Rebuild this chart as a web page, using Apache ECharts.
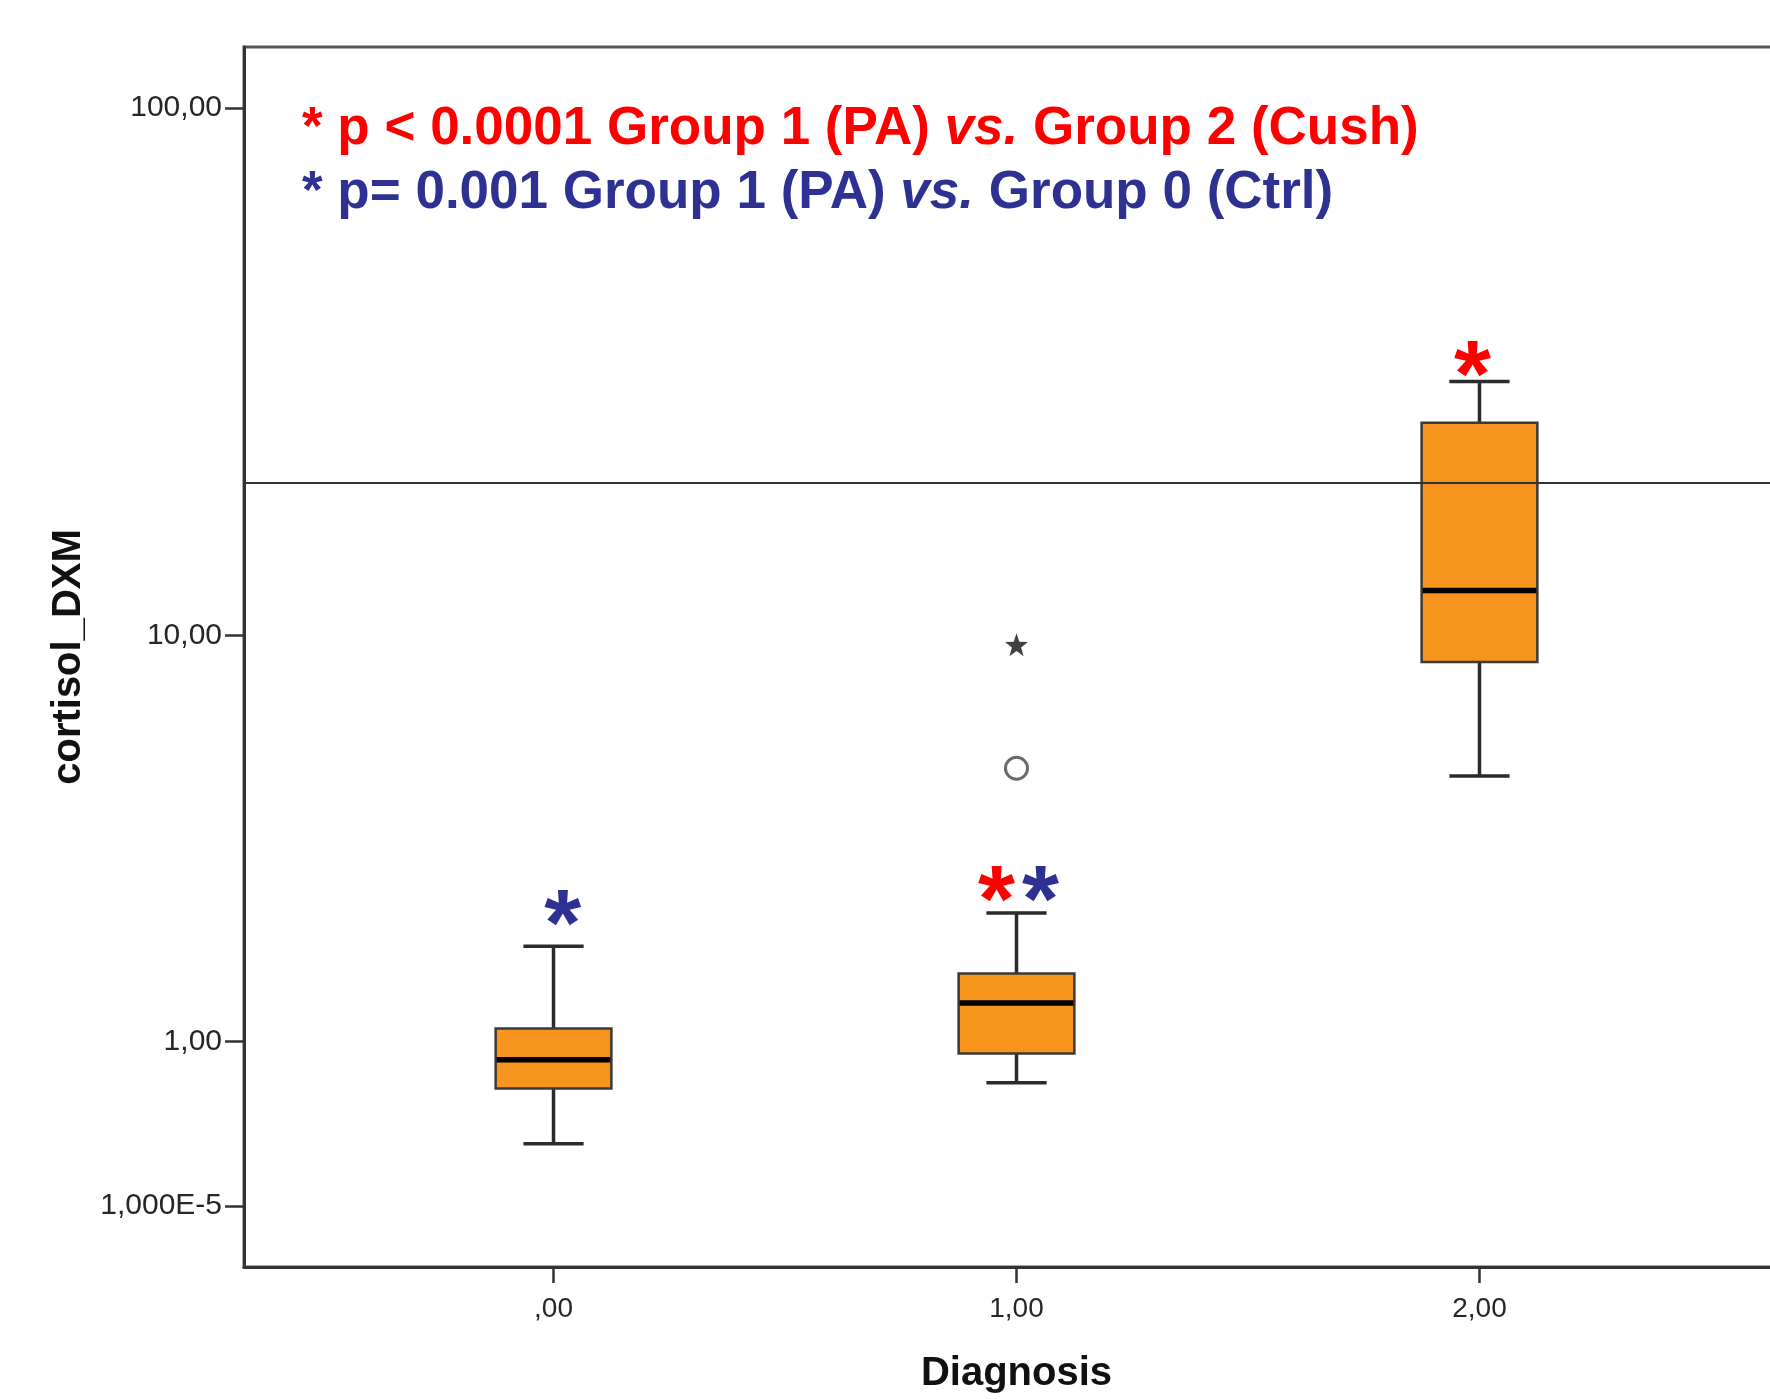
<!DOCTYPE html>
<html><head><meta charset="utf-8">
<script src="https://cdn.jsdelivr.net/npm/echarts@6/dist/echarts.min.js"></script>
<style>html,body{margin:0;padding:0;background:#fff;overflow:hidden}#c{width:1792px;height:1399px}</style>
</head><body><div id="c"></div>
<script>
// ---- data ----
const groups = [0, 1, 2];
const groupLabels = [',00', '1,00', '2,00'];
// [lowerWhisker, Q1, median, Q3, upperWhisker]
const boxStats = [
  [0.30, 0.64, 0.85, 1.11, 1.98],
  [0.68, 0.90, 1.35, 1.66, 2.43],
  [5.10, 8.85, 12.3, 25.9, 31.0]
];
const outlierCircles = [[1, 5.30]];
const outlierStars = [[1, 9.59]];
const yTickValues = [0.00001, 1, 10, 100];
const yTickLabels = ['1,000E-5', '1,00', '10,00', '100,00'];
const referenceValue = 20;
// significance asterisks: [x, y, colour]
const sigStars = [[0.02, 2.47, '#2e3192'], [0.957, 2.85, '#ff0000'], [1.052, 2.85, '#2e3192'], [1.985, 33.9, '#ff0000']];
const line1 = ['* p < 0.0001 Group 1 (PA) ', 'vs.', ' Group 2 (Cush)'];
const line2 = ['* p= 0.001 Group 1 (PA) ', 'vs.', ' Group 0 (Ctrl)'];

// SPSS-like transformed scale: log10(x+1)
const T = v => Math.log10(v + 1);
const FONT = '"Liberation Sans", Arial, sans-serif';

const chart = echarts.init(document.getElementById('c'));

function boxRender(params, api) {
  const x = api.value(0);
  const s = [1,2,3,4,5].map(i => api.value(i));
  const p = v => api.coord([x, T(v)]);
  const boxW = api.size([0.25, 0])[0];
  const capW = api.size([0.13, 0])[0];
  const cx = p(s[0])[0];
  const yLo = p(s[0])[1], yQ1 = p(s[1])[1], yMed = p(s[2])[1], yQ3 = p(s[3])[1], yHi = p(s[4])[1];
  const ws = {stroke: '#2b2b2b', lineWidth: 3.5};
  return {
    type: 'group',
    children: [
      {type: 'line', shape: {x1: cx, y1: yLo, x2: cx, y2: yQ1}, style: ws},
      {type: 'line', shape: {x1: cx, y1: yQ3, x2: cx, y2: yHi}, style: ws},
      {type: 'line', shape: {x1: cx - capW/2, y1: yLo, x2: cx + capW/2, y2: yLo}, style: ws},
      {type: 'line', shape: {x1: cx - capW/2, y1: yHi, x2: cx + capW/2, y2: yHi}, style: ws},
      {type: 'rect', shape: {x: cx - boxW/2, y: yQ3, width: boxW, height: yQ1 - yQ3},
        style: {fill: '#f7941d', stroke: '#3a3a3a', lineWidth: 2.5}},
      {type: 'line', shape: {x1: cx - boxW/2 + 1, y1: yMed, x2: cx + boxW/2 - 1, y2: yMed},
        style: {stroke: '#000', lineWidth: 5.5}}
    ]
  };
}

function sigRender(params, api) {
  const pt = api.coord([api.value(0), T(api.value(1))]);
  return {
    type: 'text',
    style: {text: '*', x: pt[0], y: pt[1] + 19, fill: sigStars[params.dataIndex][2],
      font: 'bold 95px ' + FONT, align: 'center', verticalAlign: 'middle'}
  };
}

const starPath = 'path://M0,-10 L2.35,-3.24 L9.51,-3.09 L3.8,1.24 L5.88,8.09 L0,4 L-5.88,8.09 L-3.8,1.24 L-9.51,-3.09 L-2.35,-3.24 Z';

function richLine(parts, color) {
  return {
    text: '{a|' + parts[0] + '}{b|' + parts[1] + '}{a|' + parts[2] + '}',
    rich: {
      a: {fill: color, fontSize: 53, fontWeight: 'bold', fontFamily: FONT},
      b: {fill: color, fontSize: 53, fontWeight: 'bold', fontStyle: 'italic', fontFamily: FONT}
    },
    verticalAlign: 'middle', align: 'left'
  };
}

chart.setOption({
  animation: false,
  backgroundColor: '#fff',
  grid: {left: 244, top: 47, width: 1545, height: 1224, show: true, borderColor: '#555', borderWidth: 3, backgroundColor: 'transparent'},
  xAxis: {
    type: 'value', min: -0.6685, max: 2.6685,
    name: 'Diagnosis', nameLocation: 'middle', nameGap: 87,
    nameTextStyle: {fontFamily: FONT, fontWeight: 'bold', fontSize: 40, color: '#111'},
    axisLine: {show: true, onZero: false, lineStyle: {color: '#333', width: 3}},
    axisTick: {show: true, length: 16, customValues: groups, lineStyle: {color: '#333', width: 2.5}},
    axisLabel: {customValues: groups, margin: 28, fontFamily: FONT, fontSize: 28, color: '#262626',
      formatter: v => groupLabels[groups.indexOf(Math.round(v))]},
    splitLine: {show: false}
  },
  yAxis: {
    type: 'value', min: -0.111, max: 2.1157,
    name: 'cortisol_DXM', nameLocation: 'middle', nameRotate: 90, nameGap: 154,
    nameTextStyle: {fontFamily: FONT, fontWeight: 'bold', fontSize: 40, color: '#111'},
    axisLine: {show: true, onZero: false, lineStyle: {color: '#333', width: 3}},
    axisTick: {show: true, length: 19, customValues: yTickValues.map(T), lineStyle: {color: '#333', width: 2.5}},
    axisLabel: {customValues: yTickValues.map(T), margin: 22, fontFamily: FONT, fontSize: 30, color: '#262626',
      padding: [7, 0, 0, 0],
      formatter: v => {
        let idx = 0, best = 1e9;
        yTickValues.forEach((t, i) => { const d = Math.abs(T(t) - v); if (d < best) { best = d; idx = i; } });
        return yTickLabels[idx];
      }},
    splitLine: {show: false}
  },
  graphic: [
    {type: 'text', x: 302, y: 129, style: richLine(line1, '#ff0000')},
    {type: 'text', x: 302, y: 193, style: richLine(line2, '#2e3192')}
  ],
  series: [
    {type: 'custom', name: 'box', renderItem: boxRender,
      data: groups.map((g, i) => [g].concat(boxStats[i])), encode: {x: 0, y: 3}, z: 3},
    {type: 'scatter', name: 'outliers', symbol: 'circle', symbolSize: 22,
      itemStyle: {color: 'rgba(255,255,255,0)', borderColor: '#444', borderWidth: 3},
      data: outlierCircles.map(d => [d[0], T(d[1])]), z: 4,
      markLine: {silent: true, symbol: 'none', label: {show: false},
        lineStyle: {color: '#333', width: 2, type: 'solid'}, data: [{yAxis: T(referenceValue)}]}},
    {type: 'scatter', name: 'extremes', symbol: starPath, symbolSize: 23,
      itemStyle: {color: '#111'}, data: outlierStars.map(d => [d[0], T(d[1])]), z: 4},
    {type: 'custom', name: 'sig', renderItem: sigRender,
      data: sigStars.map(d => [d[0], d[1]]), encode: {x: 0, y: 1}, z: 5}
  ]
});
</script>
</body></html>
